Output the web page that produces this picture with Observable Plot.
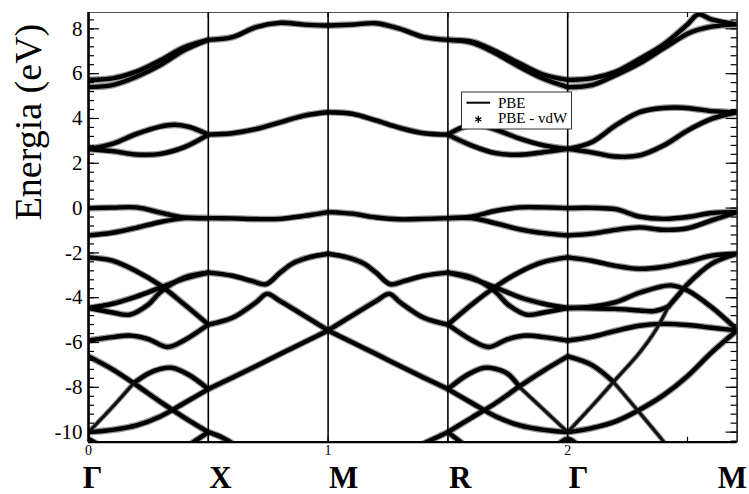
<!DOCTYPE html>
<html><head><meta charset="utf-8">
<script src="https://cdn.jsdelivr.net/npm/d3@7"></script>
<script src="https://cdn.jsdelivr.net/npm/@observablehq/plot@0.6"></script>
<style>
body{margin:0;background:#fff;}
#wrap{position:relative;width:749px;height:494px;}
#legend{position:absolute;left:461px;top:91px;}
</style></head><body><div id="wrap"></div>
<script>
// ---- path / axis values ----
const kRange = [0, 2.707];
const eRange = [-10.45, 8.73];
const symK = [0, 0.5, 1, 1.5, 2, 2.707];
const symLabels = ["Γ", "X", "M", "R", "Γ", "M"];
const innerSymK = [0.5, 1, 1.5, 2];
const yTickLabels = [-10, -8, -6, -4, -2, 0, 2, 4, 6, 8];
const xTickLabels = [0, 1, 2];
const yLabel = "Energia (eV)";
const legendLabels = ["PBE", "PBE - vdW"];

// ---- bands, [k, E(eV)] per path segment ----
const bandsGX = [
  [[0,5.72],[0.1,5.79],[0.2,6.09],[0.3,6.6],[0.4,7.18],[0.5,7.51]],
  [[0,5.4],[0.1,5.49],[0.2,5.86],[0.3,6.38],[0.4,7.05],[0.5,7.51]],
  [[0,2.64],[0.1,2.87],[0.2,3.31],[0.3,3.64],[0.36,3.72],[0.42,3.62],[0.5,3.28]],
  [[0,2.64],[0.1,2.54],[0.2,2.39],[0.3,2.42],[0.4,2.72],[0.5,3.28]],
  [[0,0.0],[0.1,0.02],[0.2,0.03],[0.3,-0.2],[0.4,-0.42],[0.5,-0.45]],
  [[0,-1.22],[0.1,-1.1],[0.2,-0.88],[0.3,-0.62],[0.4,-0.45],[0.5,-0.45]],
  [[0,-2.2],[0.1,-2.35],[0.2,-2.82],[0.3,-3.45],[0.4,-4.3],[0.5,-5.2]],
  [[0,-4.46],[0.1,-4.27],[0.2,-3.95],[0.3,-3.55],[0.4,-3.15],[0.5,-2.88]],
  [[0,-4.46],[0.1,-4.66],[0.17,-4.76],[0.25,-4.3],[0.3,-3.75],[0.4,-3.1],[0.5,-2.88]],
  [[0,-5.91],[0.1,-5.76],[0.17,-5.69],[0.25,-5.85],[0.33,-6.2],[0.4,-5.9],[0.5,-5.2]],
  [[0,-6.62],[0.1,-7.2],[0.2,-7.9],[0.3,-8.65],[0.4,-9.35],[0.5,-10.0]],
  [[0.19,-7.8],[0.25,-7.38],[0.3,-7.18],[0.35,-7.13],[0.42,-7.45],[0.5,-8.08]],
  [[0,-10.0],[0.1,-9.9],[0.2,-9.7],[0.3,-9.3],[0.4,-8.7],[0.5,-8.08]],
  [[0.43,-10.5],[0.5,-10.0]],
  [[0,-10.3],[0.04,-10.55]]
];
const bandsXM = [
  [[0.5,7.51],[0.6,7.63],[0.7,8.08],[0.8,8.27],[0.9,8.19],[1.0,8.15]],
  [[0.5,3.28],[0.6,3.34],[0.7,3.53],[0.8,3.83],[0.9,4.13],[1.0,4.28]],
  [[0.5,-0.45],[0.6,-0.46],[0.7,-0.49],[0.8,-0.48],[0.9,-0.35],[1.0,-0.18]],
  [[0.5,-2.88],[0.6,-3.02],[0.68,-3.25],[0.74,-3.4],[0.8,-2.88],[0.85,-2.48],[0.92,-2.2],[1.0,-2.04]],
  [[0.5,-5.2],[0.6,-4.9],[0.7,-4.2],[0.745,-3.83],[0.8,-4.15],[0.9,-4.8],[1.0,-5.46]],
  [[0.5,-8.08],[0.6,-7.57],[0.7,-7.05],[0.8,-6.51],[0.9,-5.99],[1.0,-5.46]],
  [[0.5,-10.0],[0.55,-10.2],[0.6,-10.5]]
];
const bandsMR = [
  [[1.0,8.15],[1.1,8.19],[1.2,8.25],[1.3,8.0],[1.4,7.63],[1.5,7.51]],
  [[1.0,4.28],[1.1,4.21],[1.2,3.91],[1.3,3.58],[1.4,3.34],[1.5,3.28]],
  [[1.0,-0.18],[1.1,-0.25],[1.2,-0.42],[1.3,-0.5],[1.4,-0.48],[1.5,-0.45]],
  [[1.0,-2.04],[1.08,-2.2],[1.15,-2.48],[1.2,-2.88],[1.26,-3.4],[1.32,-3.25],[1.4,-3.02],[1.5,-2.88]],
  [[1.0,-5.46],[1.1,-4.8],[1.2,-4.15],[1.255,-3.83],[1.3,-4.2],[1.4,-4.9],[1.5,-5.2]],
  [[1.0,-5.46],[1.1,-5.99],[1.2,-6.51],[1.3,-7.05],[1.4,-7.57],[1.5,-8.08]],
  [[1.4,-10.5],[1.45,-10.25],[1.5,-10.0]]
];
const bandsRG = [
  [[1.5,7.51],[1.6,7.43],[1.7,7.0],[1.8,6.45],[1.9,5.95],[2.0,5.72]],
  [[1.5,7.51],[1.6,7.38],[1.7,6.9],[1.8,6.3],[1.9,5.77],[2.0,5.4]],
  [[1.5,3.28],[1.56,3.6],[1.62,3.72],[1.7,3.5],[1.8,3.1],[1.9,2.8],[2.0,2.64]],
  [[1.5,3.28],[1.6,2.79],[1.7,2.45],[1.8,2.38],[1.9,2.5],[2.0,2.64]],
  [[1.5,-0.45],[1.6,-0.38],[1.7,-0.12],[1.8,0.03],[1.9,0.03],[2.0,0.0]],
  [[1.5,-0.45],[1.6,-0.45],[1.7,-0.68],[1.8,-0.95],[1.9,-1.12],[2.0,-1.22]],
  [[1.5,-5.2],[1.6,-4.3],[1.7,-3.5],[1.8,-2.85],[1.9,-2.4],[2.0,-2.2]],
  [[1.5,-2.88],[1.6,-3.15],[1.7,-3.55],[1.8,-3.98],[1.9,-4.27],[2.0,-4.46]],
  [[1.5,-2.88],[1.6,-3.1],[1.7,-3.75],[1.75,-4.3],[1.83,-4.76],[1.9,-4.66],[2.0,-4.46]],
  [[1.5,-5.2],[1.6,-5.9],[1.67,-6.2],[1.75,-5.85],[1.83,-5.69],[1.9,-5.76],[2.0,-5.91]],
  [[1.5,-10.0],[1.6,-9.35],[1.7,-8.7],[1.8,-7.95],[1.9,-7.25],[2.0,-6.62]],
  [[1.5,-8.08],[1.58,-7.45],[1.65,-7.13],[1.7,-7.18],[1.75,-7.4],[1.8,-8.0]],
  [[1.5,-8.08],[1.6,-8.7],[1.7,-9.3],[1.8,-9.7],[1.9,-9.9],[2.0,-10.0]],
  [[1.5,-10.0],[1.56,-10.5]],
  [[1.96,-10.55],[2.0,-10.3],[2.04,-10.55]]
];
const bandsGM = [
  [[2.0,5.72],[2.1,5.79],[2.2,6.08],[2.3,6.66],[2.4,7.3],[2.5,8.2],[2.545,8.65],[2.6,8.42],[2.707,8.2]],
  [[2.0,5.4],[2.1,5.49],[2.2,5.93],[2.3,6.46],[2.4,7.13],[2.5,7.78],[2.54,7.95],[2.6,8.1],[2.707,8.2]],
  [[2.0,2.64],[2.1,2.94],[2.2,3.69],[2.3,4.28],[2.4,4.47],[2.48,4.48],[2.6,4.33],[2.707,4.28]],
  [[2.0,2.64],[2.1,2.49],[2.2,2.3],[2.3,2.35],[2.4,2.79],[2.5,3.46],[2.6,3.98],[2.707,4.28]],
  [[2.0,0.0],[2.1,0.01],[2.2,-0.05],[2.3,-0.38],[2.4,-0.48],[2.5,-0.4],[2.6,-0.22],[2.707,-0.18]],
  [[2.0,-1.22],[2.1,-1.14],[2.2,-0.97],[2.3,-0.86],[2.4,-0.97],[2.5,-0.9],[2.6,-0.55],[2.707,-0.18]],
  [[2.0,-2.2],[2.1,-2.35],[2.2,-2.58],[2.3,-2.71],[2.4,-2.62],[2.5,-2.4],[2.6,-2.12],[2.707,-2.04]],
  [[2.0,-4.46],[2.1,-4.4],[2.2,-4.2],[2.3,-3.78],[2.43,-3.45],[2.5,-3.68],[2.6,-4.42],[2.707,-5.43]],
  [[2.0,-4.46],[2.1,-4.47],[2.2,-4.5],[2.3,-4.57],[2.36,-4.6],[2.42,-4.4]],
  [[2.42,-4.4],[2.46,-3.9],[2.5,-3.4],[2.6,-2.49],[2.707,-2.04]],
  [[2.0,-5.91],[2.1,-5.75],[2.2,-5.48],[2.3,-5.25],[2.4,-5.17],[2.5,-5.22],[2.6,-5.34],[2.707,-5.46]],
  [[2.0,-6.62],[2.1,-7.0],[2.19,-7.75]],
  [[2.0,-10.0],[2.1,-9.82],[2.2,-9.52],[2.3,-9.0],[2.4,-8.35],[2.5,-7.5],[2.6,-6.45],[2.707,-5.46]]
];
// bands that appear only as sparse asterisks (thin)
const bandsThin = [
  [[0,-10.0],[0.1,-8.88],[0.19,-7.8]],
  [[1.8,-8.0],[1.9,-9.0],[2.0,-10.0]],
  [[2.19,-7.75],[2.28,-8.88],[2.39,-10.29],[2.42,-10.7]],
  [[2.0,-10.0],[2.1,-8.85],[2.2,-7.65],[2.3,-6.45],[2.37,-5.4],[2.42,-4.4]]
];

// ---- build tables ----
function toRows(groups, tag) {
  const out = [];
  groups.forEach((g, gi) => g.forEach((band, bi) =>
    band.forEach(([k, e]) => out.push({k, e, id: `${tag}${gi}-${bi}`}))));
  return out;
}
const thickRows = toRows([bandsGX, bandsXM, bandsMR, bandsRG, bandsGM], "b");
const thinRows = toRows([bandsThin], "t");

const mL = 88, mR = 12.4, mT = 12, mB = 52.3, W = 749, H = 494;
const frameW = W - mL - mR, frameH = H - mT - mB;
const yMinor = d3.range(-26, 22).map(i => +(i * 0.4).toFixed(1));
const xMinor = d3.range(0, 6).map(i => i * 0.5);
const serif = "Liberation Serif";
const lineOpts = {x: "k", y: "e", z: "id", curve: "catmull-rom", clip: true};
const symOpts = {x: d => d, frameAnchor: "bottom", lineAnchor: "middle", dy: 35.4, fontSize: 31, fontWeight: "bold", fontFamily: serif};

const chart = Plot.plot({
  width: W, height: H,
  marginLeft: mL, marginRight: mR, marginTop: mT, marginBottom: mB,
  x: {domain: kRange, axis: null, label: null},
  y: {domain: eRange, axis: null, label: null},
  style: {fontFamily: serif, background: "white", color: "black"},
  marks: [
    Plot.line(thickRows, {...lineOpts, stroke: "#9a9a9a", strokeWidth: 6.8}),
    Plot.line(thinRows, {...lineOpts, stroke: "#9c9c9c", strokeWidth: 5.2}),
    Plot.line(thickRows, {...lineOpts, stroke: "#000", strokeWidth: 4.4}),
    Plot.line(thinRows, {...lineOpts, stroke: "#111", strokeWidth: 3.2, strokeDasharray: "3,1"}),
    Plot.ruleX(innerSymK, {stroke: "#000", strokeWidth: 1.6}),
    Plot.frame({stroke: "#555", strokeWidth: 1}),
    Plot.ruleX([kRange[0]], {stroke: "#000", strokeWidth: 2.6}),
    Plot.ruleX([kRange[1]], {stroke: "#000", strokeWidth: 1.2}),
    Plot.ruleY([eRange[0]], {stroke: "#000", strokeWidth: 2.2}),
    // inward ticks
    Plot.tickY(yMinor, {y: d => d, insetRight: frameW - 6, stroke: "#000", strokeWidth: 1.2}),
    Plot.tickY(yTickLabels, {y: d => d, insetRight: frameW - 11, stroke: "#000", strokeWidth: 1.2}),
    Plot.tickY(yMinor, {y: d => d, insetLeft: frameW - 6, stroke: "#000", strokeWidth: 1.2}),
    Plot.tickY(yTickLabels, {y: d => d, insetLeft: frameW - 11, stroke: "#000", strokeWidth: 1.2}),
    Plot.tickX(xMinor, {x: d => d, insetTop: frameH - 5, stroke: "#000", strokeWidth: 1.2}),
    Plot.tickX(xMinor, {x: d => d, insetBottom: frameH - 5, stroke: "#000", strokeWidth: 1.2}),
    // tick labels
    Plot.text(yTickLabels, {y: d => d, text: d => String(d), frameAnchor: "left", textAnchor: "end", dx: -6, fontSize: 21, fontFamily: serif}),
    Plot.text(xTickLabels, {x: d => d, text: d => String(d), frameAnchor: "bottom", lineAnchor: "top", dy: 3, fontSize: 14, fontFamily: serif}),
    // high-symmetry labels
    Plot.text(symK.slice(0, 1), {...symOpts, text: (d, i) => symLabels[i], dx: 4}),
    Plot.text(symK.slice(1, 5), {...symOpts, text: (d, i) => symLabels[i + 1], textAnchor: "start", dx: 1}),
    Plot.text(symK.slice(5), {...symOpts, text: (d, i) => symLabels[i + 5], textAnchor: "end", dx: 10}),
    // y label
    Plot.text([yLabel], {text: d => d, frameAnchor: "left", rotate: -90, dx: -60, dy: -7, fontSize: 38, fontFamily: serif})
  ]
});
const wrap = document.getElementById("wrap");
wrap.appendChild(chart);

// legend overlay
const ns = "http://www.w3.org/2000/svg";
const leg = document.createElementNS(ns, "svg");
leg.setAttribute("id", "legend");
leg.setAttribute("width", 113);
leg.setAttribute("height", 40);
leg.innerHTML = `
  <rect x="0.5" y="1" width="110" height="37" fill="#fff" stroke="#333" stroke-width="1"/>
  <line x1="5.5" x2="29" y1="11.7" y2="11.7" stroke="#000" stroke-width="2"/>
  <g stroke="#000" stroke-width="1.3">
    <line x1="17.3" y1="24.8" x2="17.3" y2="31.8"/>
    <line x1="14.3" y1="26.6" x2="20.3" y2="30"/>
    <line x1="14.3" y1="30" x2="20.3" y2="26.6"/>
  </g>
  <g style="font-family:'Liberation Serif','Times New Roman',serif;font-size:15px" fill="#000">
    <text x="37" y="16.8">${legendLabels[0]}</text>
    <text x="37" y="32">${legendLabels[1]}</text>
  </g>`;
wrap.appendChild(leg);
</script>
</body></html>
